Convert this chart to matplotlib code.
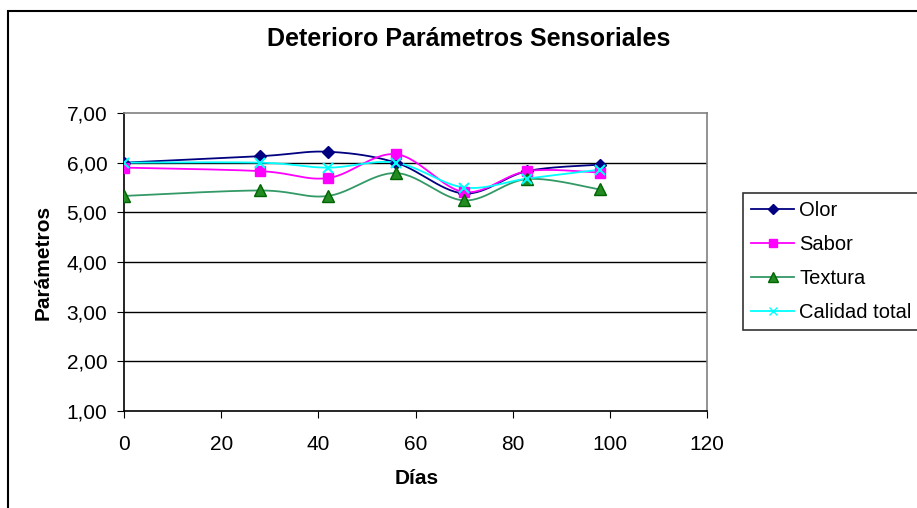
import numpy as np
import matplotlib.pyplot as plt
from matplotlib.lines import Line2D
from matplotlib.patches import Rectangle

plt.rcParams['font.family'] = ['Liberation Sans', 'DejaVu Sans']

# -----------------------------
# Data
# -----------------------------
dias = [0, 28, 42, 56, 70, 83, 98]
olor = [6.00, 6.13, 6.22, 6.00, 5.38, 5.83, 5.96]
sabor = [5.90, 5.83, 5.69, 6.17, 5.41, 5.83, 5.80]
textura = [5.33, 5.44, 5.33, 5.79, 5.24, 5.67, 5.46]
calidad = [6.00, 6.00, 5.90, 6.00, 5.50, 5.68, 5.86]

series_names = ["Olor", "Sabor", "Textura", "Calidad total"]
y_ticks = [1, 2, 3, 4, 5, 6, 7]
y_tick_labels = ["1,00", "2,00", "3,00", "4,00", "5,00", "6,00", "7,00"]
x_ticks = [0, 20, 40, 60, 80, 100, 120]


# -----------------------------
# Excel-like smoothed line (Catmull-Rom bezier)
# -----------------------------
def smooth(x, y, n=30):
    p = np.column_stack([x, y]).astype(float)
    p = np.vstack([p[0], p, p[-1]])
    out = []
    t = np.linspace(0, 1, n)[:, None]
    for i in range(1, len(p) - 2):
        p0, p3 = p[i], p[i + 1]
        c1 = p0 + (p[i + 1] - p[i - 1]) / 6
        c2 = p3 - (p[i + 2] - p[i]) / 6
        seg = ((1 - t) ** 3) * p0 + 3 * ((1 - t) ** 2) * t * c1 \
            + 3 * (1 - t) * t ** 2 * c2 + t ** 3 * p3
        out.append(seg)
    seg = np.vstack(out)
    return seg[:, 0], seg[:, 1]


styles = [
    dict(color="#000080", marker="D", mfc="#000080", mec="#000080", ms=6),
    dict(color="#FF00FF", marker="s", mfc="#FF00FF", mec="#FF00FF", ms=7),
    dict(color="#339966", marker="^", mfc="#228B22", mec="#006400", ms=8),
    dict(color="#00FFFF", marker="x", mfc="#00FFFF", mec="#00FFFF", ms=7),
]

fig = plt.figure(figsize=(9.17, 5.08), dpi=100)
ax = fig.add_axes([124 / 917, 97 / 508, 583 / 917, 298 / 508])

handles = []
for name, vals, st in zip(series_names, [olor, sabor, textura, calidad], styles):
    sx, sy = smooth(dias, vals)
    ax.plot(sx, sy, color=st["color"], lw=1.3, zorder=3)
    ax.plot(dias, vals, linestyle="none", marker=st["marker"], ms=st["ms"],
            mfc=st["mfc"], mec=st["mec"], mew=1.5 if st["marker"] == "x" else 1,
            zorder=4)
    handles.append(Line2D([], [], color=st["color"], lw=1.3, marker=st["marker"],
                          ms=st["ms"] - 1, mfc=st["mfc"], mec=st["mec"], label=name))

ax.set_xlim(0, 120)
ax.set_ylim(1, 7)
ax.set_xticks(x_ticks)
ax.set_yticks(y_ticks)
ax.set_yticklabels(y_tick_labels)
ax.tick_params(axis="both", labelsize=15, direction="out", length=5, color="black")
ax.tick_params(axis="x", pad=12)
ax.tick_params(axis="y", pad=7)

for v in y_ticks[1:-1]:
    ax.axhline(v, color="black", lw=1, zorder=1)

ax.spines["left"].set_color("black")
ax.spines["bottom"].set_color("black")
ax.spines["top"].set_color("#808080")
ax.spines["right"].set_color("#808080")
for s in ax.spines.values():
    s.set_linewidth(1.2)

ax.set_xlabel("Días", fontsize=15, fontweight="bold")
ax.set_ylabel("Parámetros", fontsize=15, fontweight="bold")
ax.xaxis.set_label_coords((417 - 124) / 583, -68 / 298)
ax.xaxis.label.set_va("center")
ax.yaxis.set_label_coords(-81 / 583, 0.5)
ax.yaxis.label.set_va("center")

fig.text(469 / 917, 1 - 39 / 508, "Deterioro Parámetros Sensoriales",
         ha="center", va="center", fontsize=18, fontweight="bold")

leg = fig.legend(handles=handles, loc="upper left",
                 bbox_to_anchor=(743 / 917, 1 - 193 / 508),
                 fontsize=14.5, frameon=True, fancybox=False,
                 handlelength=2.15, handletextpad=0.25,
                 labelspacing=0.75, borderpad=0.4, borderaxespad=0)
leg.get_frame().set_edgecolor("black")
leg.get_frame().set_linewidth(1.2)

# chart area border
fig.patches.append(Rectangle((8 / 917, -0.05), 1.0, 1 - 11 / 508 + 0.05,
                             transform=fig.transFigure, fill=False,
                             edgecolor="black", lw=1.5))

fig.savefig("out.png", dpi=100)
